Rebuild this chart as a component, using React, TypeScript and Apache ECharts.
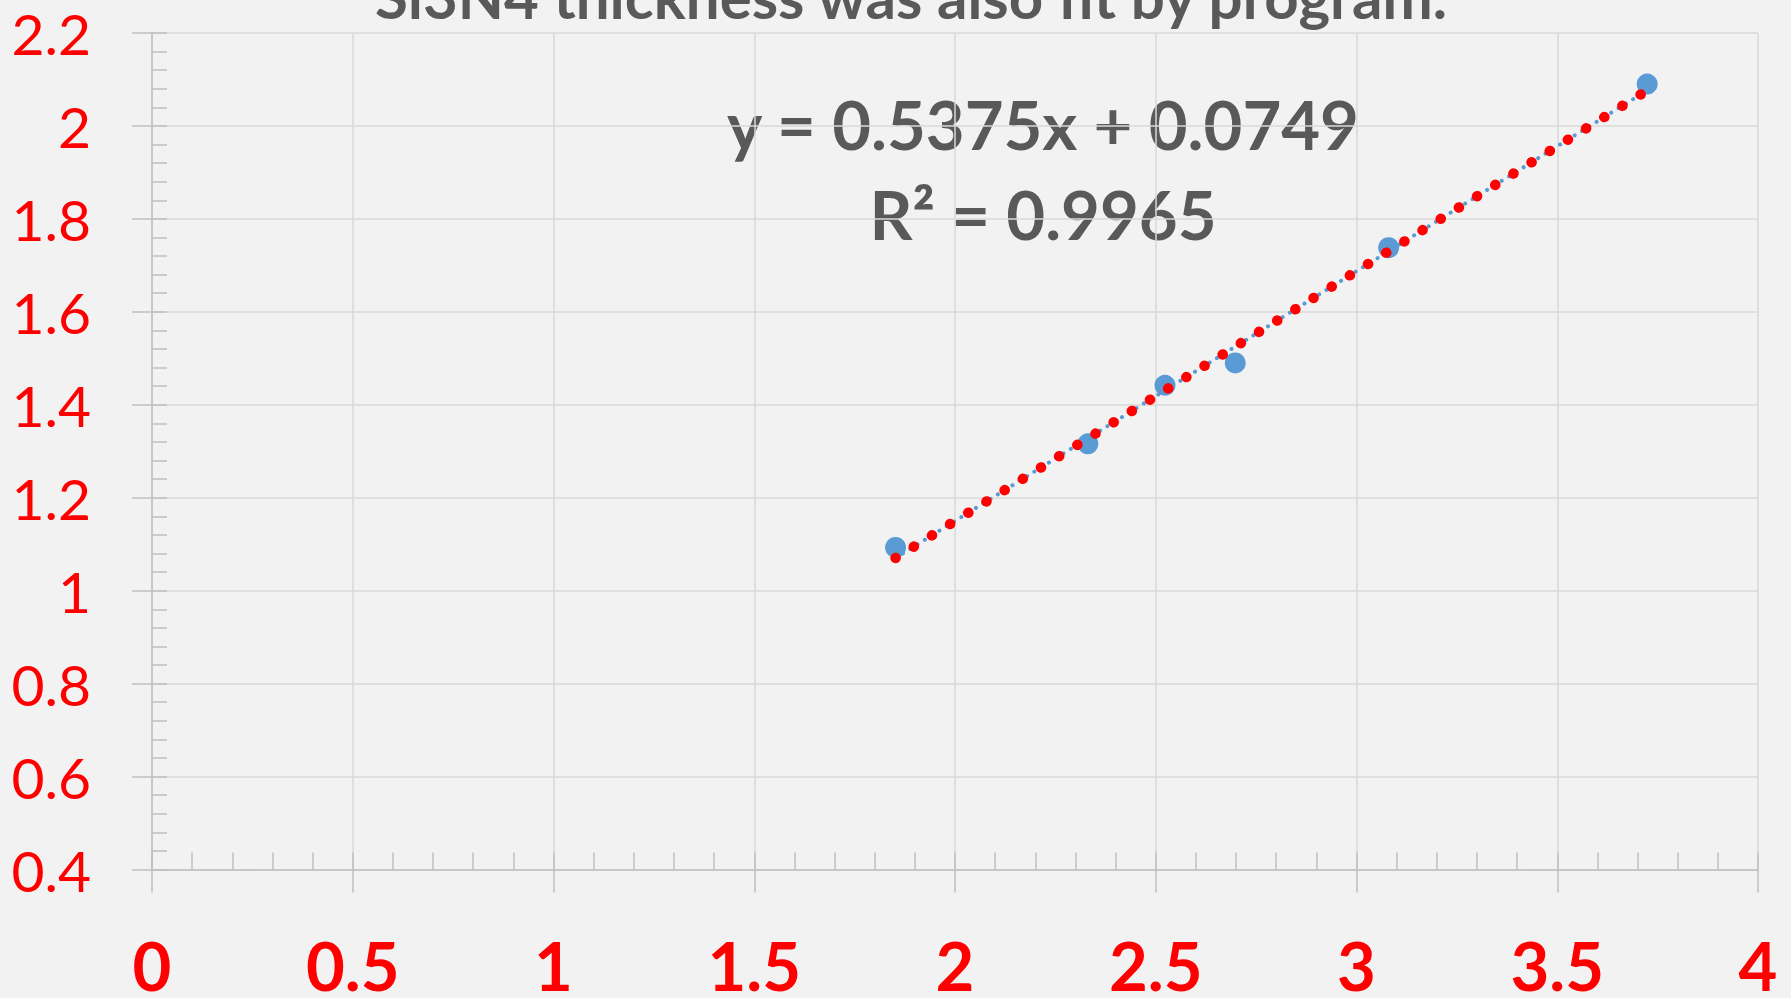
import React, { useEffect, useRef } from "react";
import * as echarts from "echarts";

const titleText = "Si3N4 thickness was also fit by program.";
const xValues = [1.852, 2.331, 2.523, 2.698, 3.08, 3.724];
const yValues = [1.093, 1.316, 1.442, 1.49, 1.738, 2.09];
const trendSlope = 0.5375;
const trendIntercept = 0.0749;
const equationLines = ["y = 0.5375x + 0.0749", "R² = 0.9965"];
const xRange = [0, 4];
const xInterval = 0.5;
const yRange = [0.4, 2.2];
const yInterval = 0.2;

const FONT = "Lato";
const GRID_COLOR = "#d9d9d9";
const AXIS_COLOR = "#bfbfbf";

export default function App() {
  const ref = useRef<HTMLDivElement>(null);
  useEffect(() => {
    if (!ref.current) return;
    const chart = echarts.init(ref.current, undefined, { renderer: "svg" });
    const points = xValues.map((x, i) => [x, yValues[i]]);
    const xMin = Math.min(...xValues);
    const xMax = Math.max(...xValues);
    const trend = [
      [xMin, trendSlope * xMin + trendIntercept],
      [xMax, trendSlope * xMax + trendIntercept],
    ];
    const option: any = {
      animation: false,
      backgroundColor: "#f2f2f2",
      grid: { left: 152, right: 33, top: 33, bottom: 123 },
      xAxis: [
        {
          type: "value",
          min: xRange[0],
          max: xRange[1],
          interval: xInterval,
          position: "bottom",
          axisLine: { show: true, onZero: false, lineStyle: { color: AXIS_COLOR, width: 1.5 } },
          axisTick: { show: true, inside: false, length: 23, lineStyle: { color: AXIS_COLOR, width: 1.5 } },
          axisLabel: {
            color: "#ff0000",
            fontFamily: FONT,
            fontWeight: "bold",
            fontSize: 67,
            margin: 95,
            verticalAlign: "middle",
          },
          splitLine: { show: true, lineStyle: { color: GRID_COLOR, width: 1.5 } },
          minorTick: { show: false },
        },
        {
          type: "value",
          min: xRange[0],
          max: xRange[1],
          interval: xInterval,
          position: "bottom",
          axisLine: { show: false },
          axisTick: { show: true, inside: true, length: 17, lineStyle: { color: AXIS_COLOR, width: 1.5 } },
          axisLabel: { show: false },
          splitLine: { show: false },
          minorTick: { show: true, splitNumber: 5, length: 17, lineStyle: { color: AXIS_COLOR, width: 1.5 } },
        },
      ],
      yAxis: [
        {
          type: "value",
          min: yRange[0],
          max: yRange[1],
          interval: yInterval,
          position: "left",
          axisLine: { show: true, onZero: false, lineStyle: { color: AXIS_COLOR, width: 1.5 } },
          axisTick: { show: true, inside: false, length: 20, lineStyle: { color: AXIS_COLOR, width: 1.5 } },
          axisLabel: {
            color: "#ff0000",
            fontFamily: FONT,
            fontSize: 57,
            margin: 61,
          },
          splitLine: { show: true, lineStyle: { color: GRID_COLOR, width: 1.5 } },
          minorTick: { show: false },
        },
        {
          type: "value",
          min: yRange[0],
          max: yRange[1],
          interval: yInterval,
          position: "left",
          axisLine: { show: false },
          axisTick: { show: true, inside: true, length: 15, lineStyle: { color: AXIS_COLOR, width: 1.5 } },
          axisLabel: { show: false },
          splitLine: { show: false },
          minorTick: { show: true, splitNumber: 5, length: 15, lineStyle: { color: AXIS_COLOR, width: 1.5 } },
        },
      ],
      series: [
        {
          type: "line",
          data: trend,
          xAxisIndex: 0,
          yAxisIndex: 0,
          symbol: "none",
          silent: true,
          z: 2,
          lineStyle: { color: "#5b9bd5", width: 4, type: [0.1, 8.5], cap: "round" },
        },
        {
          type: "scatter",
          data: points,
          xAxisIndex: 0,
          yAxisIndex: 0,
          symbol: "circle",
          symbolSize: 21,
          z: 3,
          itemStyle: { color: "#5b9bd5", opacity: 1 },
        },
        {
          type: "line",
          data: trend,
          xAxisIndex: 0,
          yAxisIndex: 0,
          symbol: "none",
          silent: true,
          z: 4,
          lineStyle: { color: "#ff0000", width: 10.5, type: [0.1, 21.3], cap: "round" },
        },
      ],
      graphic: [
        {
          type: "text",
          x: 911,
          y: -4,
          style: {
            text: titleText,
            fontFamily: FONT,
            fontWeight: "bold",
            fontSize: 60,
            fill: "#595959",
            align: "center",
            verticalAlign: "middle",
          },
        },
        {
          type: "text",
          x: 1043,
          y: 124,
          style: {
            text: equationLines[0],
            fontFamily: FONT,
            fontWeight: "bold",
            fontSize: 67,
            fill: "#595959",
            align: "center",
            verticalAlign: "middle",
          },
        },
        {
          type: "text",
          x: 1043,
          y: 214,
          style: {
            text: equationLines[1],
            fontFamily: FONT,
            fontWeight: "bold",
            fontSize: 67,
            fill: "#595959",
            align: "center",
            verticalAlign: "middle",
          },
        },
      ],
    };
    chart.setOption(option);
    return () => chart.dispose();
  }, []);
  return (
    <div
      ref={ref}
      style={{ position: "absolute", left: 0, top: 0, width: 1791, height: 998 }}
    />
  );
}
